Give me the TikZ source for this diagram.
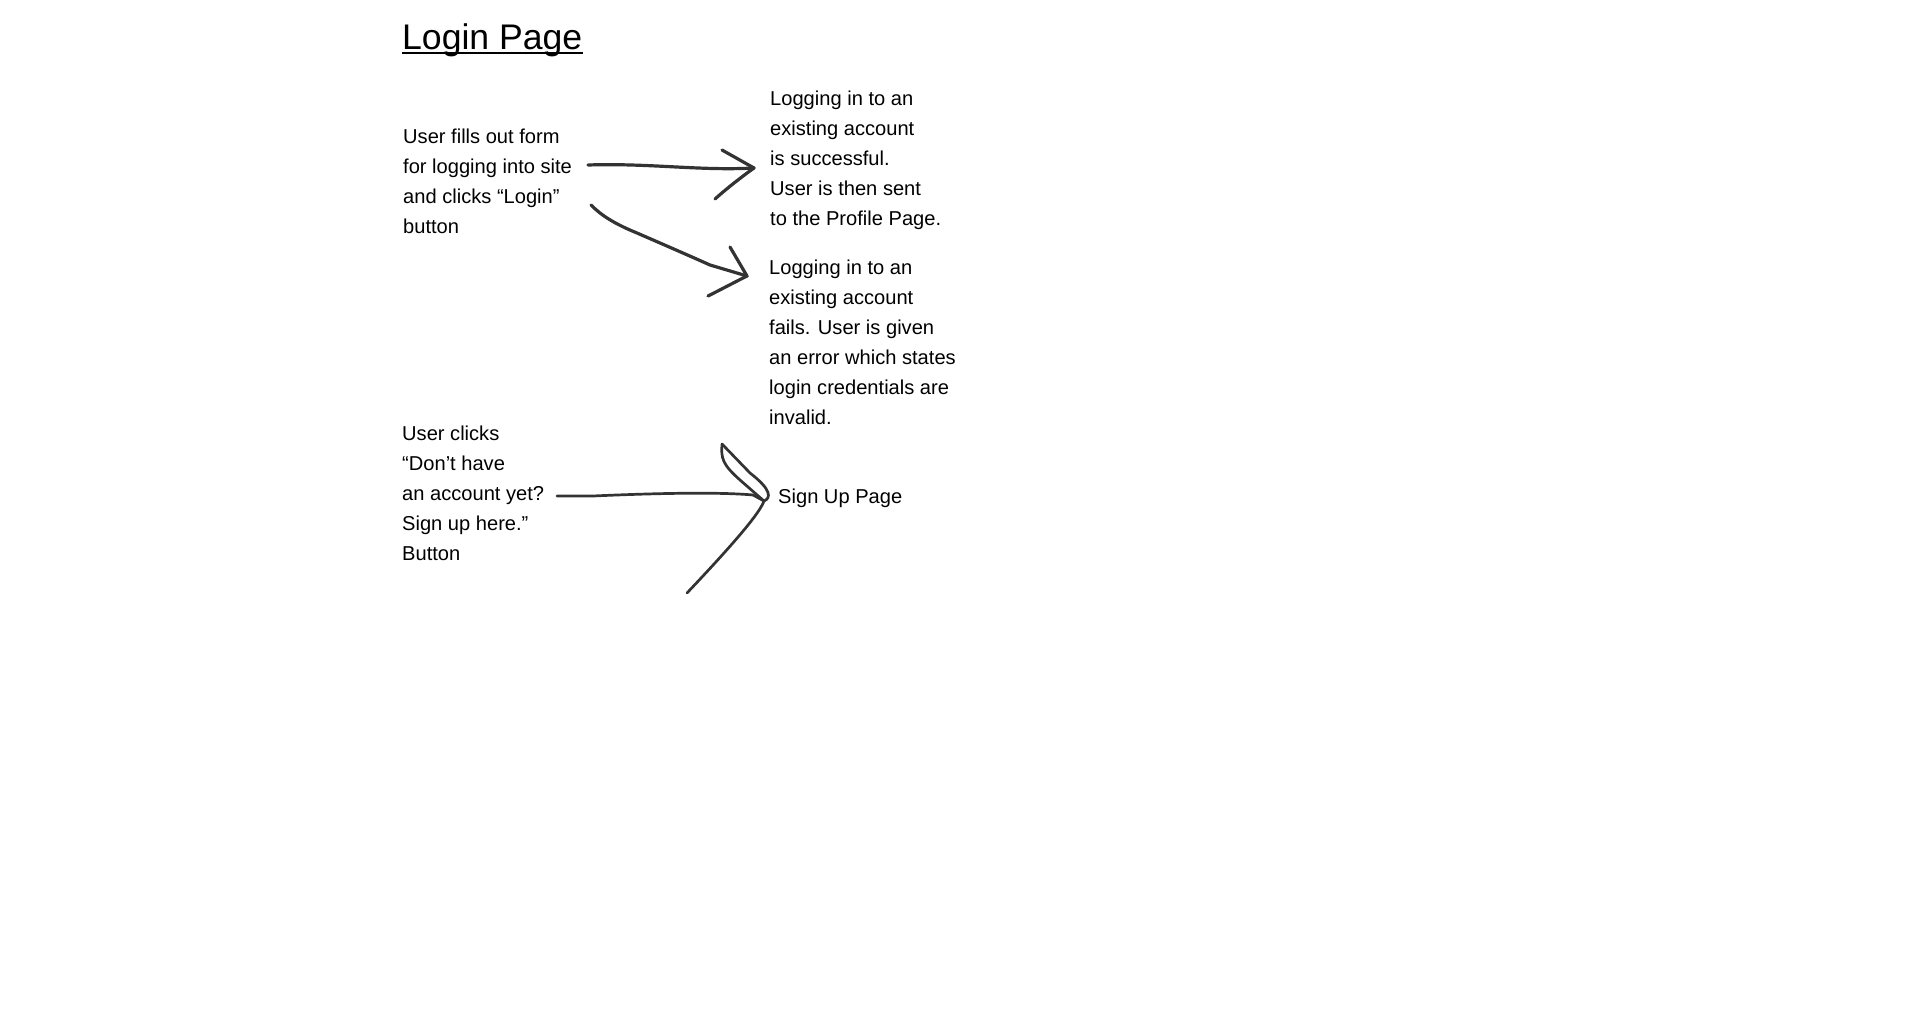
\documentclass[tikz,border=0pt]{standalone}
\usepackage{fontspec}
\setmainfont{Liberation Sans}
\begin{document}
\begin{tikzpicture}[x=1pt,y=-1pt,
    txt/.style={anchor=north west,inner sep=0pt,align=left,font=\fontsize{20.1}{30}\selectfont},
    pen/.style={line width=3.2pt,black!80,line cap=round,line join=round}]
\useasboundingbox (0,0) rectangle (1920,1035);

\node[anchor=base west,inner sep=0pt,font=\fontsize{35.6}{40}\selectfont] (title) at (402,50) {Login Page};
\draw[line width=2pt] ([yshift=-3.5pt]title.base west) -- ([yshift=-3.5pt]title.base east);

\node[txt] (loginform) at (403,122.5) {\strut User fills out form\\for logging into site\\and clicks “Login”\\button};
\node[txt] (success) at (770,84.5) {\strut Logging in to an\\existing account\\is successful.\\User is then sent\\to the Profile Page.};
\node[txt] (failure) at (769,253.5) {\strut Logging in to an\\existing account\\fails. User is given\\an error which states\\login credentials are\\invalid.};
\node[txt] (signupbtn) at (402,419.5) {\strut User clicks\\“Don’t have\\an account yet?\\Sign up here.”\\Button};
\node[txt] (signuppage) at (778,482.5) {\strut Sign Up Page};

% arrow ends
\coordinate (okstart) at (588,165);
\coordinate (oktip) at (754,168);
\coordinate (failstart) at (591,205);
\coordinate (failtip) at (747,276);
\coordinate (signstart) at (557,496);
\coordinate (signtip) at (764,501);

% login ok
\draw[pen] (okstart) .. controls (650,163) and (700,171) .. (oktip);
\draw[pen] (722,150) -- (oktip) .. controls (740,178) and (725,190) .. (715,199);

% login fails
\draw[pen] (failstart) .. controls (602,216) and (615,224) .. (637,233) .. controls (660,243) and (690,256) .. (710,265) -- (failtip);
\draw[pen] (730,247) -- (failtip) .. controls (735,282) and (720,290) .. (708,296);

% sign up
\draw[pen,line width=2.7pt] (signstart) -- (593,496) .. controls (660,493) and (720,492) .. (753,495) -- (signtip);
\draw[pen,line width=2.7pt] (722,444) .. controls (721,458) and (722,464) .. (740,480) -- (signtip);
\draw[pen,line width=2.7pt] (722,444) -- (750,473) .. controls (772,490) and (771,498) .. (signtip);
\draw[pen,line width=2.7pt] (signtip) .. controls (760,512) and (740,537) .. (687,593);

\end{tikzpicture}
\end{document}
